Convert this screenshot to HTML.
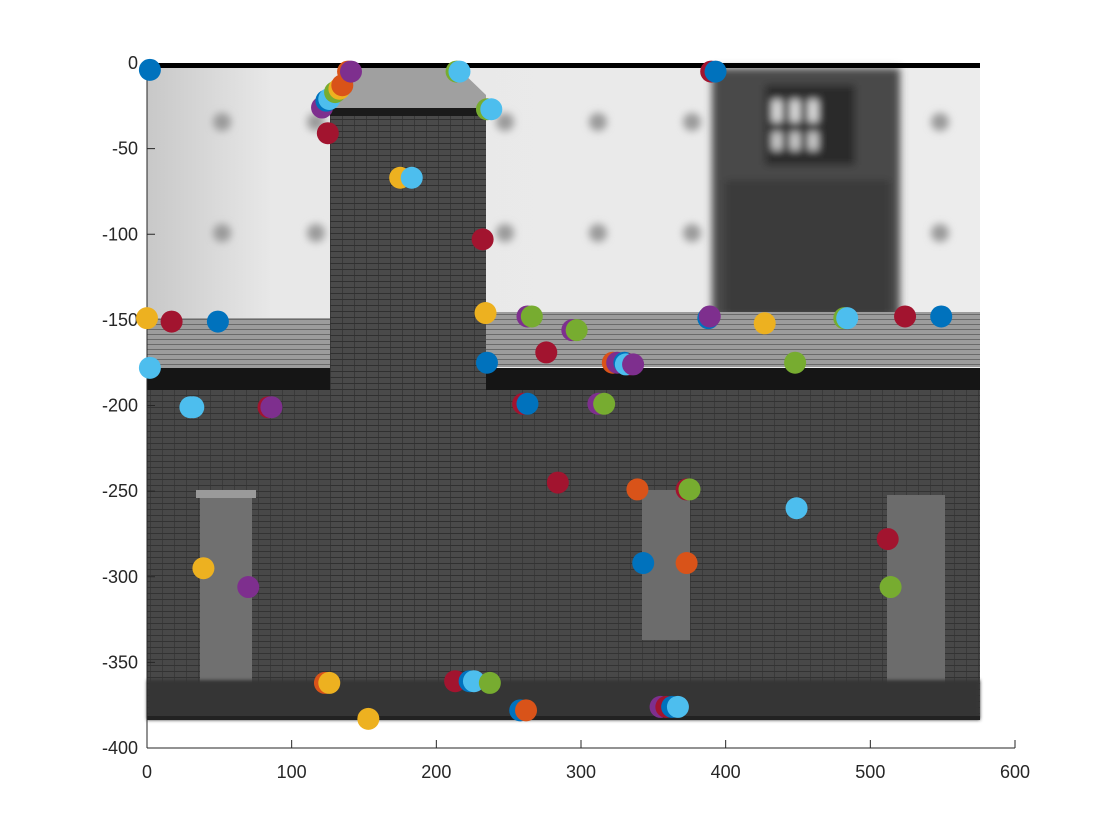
<!DOCTYPE html>
<html><head><meta charset="utf-8"><style>
html,body{margin:0;padding:0;background:#fff;}
svg{display:block;font-family:"Liberation Sans",sans-serif;}
</style></head><body>
<svg id="chart" width="1120" height="840">
<defs>
<filter id="blur4"><feGaussianBlur stdDeviation="4"/></filter>
<filter id="blur2"><feGaussianBlur stdDeviation="1.5"/></filter>
<linearGradient id="sky" x1="0" y1="0" x2="1" y2="0">
<stop offset="0" stop-color="#c8c8c8"/><stop offset="0.15" stop-color="#e8e8e8"/><stop offset="1" stop-color="#ececec"/></linearGradient>
<pattern id="brick" width="12" height="6" patternUnits="userSpaceOnUse">
<rect width="12" height="6" fill="#484848"/><rect y="5" width="12" height="1" fill="#333"/><rect x="6" width="1" height="5" fill="#3a3a3a"/></pattern>
<pattern id="brick2" width="12" height="6" patternUnits="userSpaceOnUse">
<rect width="12" height="6" fill="#4a4a4a"/><rect y="5" width="12" height="1" fill="#303030"/><rect x="6" width="1" height="5" fill="#383838"/></pattern>
<pattern id="roof" width="10" height="5" patternUnits="userSpaceOnUse">
<rect width="10" height="5" fill="#9c9c9c"/><rect y="4" width="10" height="1" fill="#6a6a6a"/></pattern>
</defs>
<g id="bg-image">
<rect x="147" y="63" width="833" height="657" fill="url(#sky)"/>
<g fill="#9a9a9a" filter="url(#blur4)">
<circle cx="222" cy="122" r="9"/><circle cx="410" cy="122" r="9"/><circle cx="598" cy="122" r="9"/>
<circle cx="222" cy="233" r="9"/><circle cx="410" cy="233" r="9"/><circle cx="598" cy="233" r="9"/><circle cx="505" cy="122" r="9"/><circle cx="505" cy="233" r="9"/>
<circle cx="316" cy="122" r="9"/><circle cx="316" cy="233" r="9"/><circle cx="692" cy="233" r="9"/><circle cx="692" cy="122" r="9"/><circle cx="940" cy="122" r="9"/><circle cx="940" cy="233" r="9"/>
</g>
<g filter="url(#blur4)">
<rect x="712" y="68" width="188" height="250" fill="#4a4a4a"/>
<rect x="725" y="180" width="165" height="138" fill="#3a3a3a"/>
<rect x="765" y="85" width="90" height="80" fill="#2a2a2a"/>
<rect x="772" y="100" width="10" height="22" fill="#ddd"/><rect x="790" y="100" width="10" height="22" fill="#ddd"/><rect x="808" y="100" width="10" height="22" fill="#ddd"/><rect x="772" y="132" width="10" height="18" fill="#ccc"/><rect x="790" y="132" width="10" height="18" fill="#ccc"/><rect x="808" y="132" width="10" height="18" fill="#ccc"/>
</g>
<rect x="147" y="63" width="833" height="5" fill="#000"/>
<polygon points="350,68 458,68 486,95 486,112 330,112 330,90" fill="#a0a0a0"/>
<rect x="330" y="108" width="156" height="8" fill="#1a1a1a"/>
<rect x="147" y="318" width="183" height="52" fill="url(#roof)"/>
<rect x="486" y="312" width="494" height="55" fill="url(#roof)"/>
<rect x="147" y="368" width="833" height="24" fill="#151515"/>
<rect x="147" y="390" width="833" height="330" fill="url(#brick)"/>
<rect x="330" y="116" width="156" height="566" fill="url(#brick2)"/>
<rect x="200" y="495" width="52" height="195" fill="#707070"/><rect x="196" y="490" width="60" height="8" fill="#9a9a9a"/>
<rect x="642" y="490" width="48" height="150" fill="#6c6c6c"/>
<rect x="887" y="495" width="58" height="195" fill="#6c6c6c"/>
<rect x="147" y="680" width="833" height="40" fill="#363636" filter="url(#blur2)"/>
<rect x="147" y="716" width="833" height="4" fill="#222"/>
</g>
<g id="axes"></g>
<g id="points"></g>
</svg>
<script>
const xTicks=[0,100,200,300,400,500,600];
const yTicks=[0,-50,-100,-150,-200,-250,-300,-350,-400];
const palette=["#0072BD","#D95319","#EDB120","#7E2F8E","#77AC30","#4DBEEE","#A2142F"];
const xs=[2,0,17,49,2,30,32,84,86,39,70,125,121,124,126,130,133,135,139,141,175,183,214,216,235,238,232,234,263,266,294,297,276,235,322,325,330,333,331,336,260,263,312,316,284,339,373,375,343,373,390,393,388,389,427,448,449,482,484,524,549,512,514,123,126,153,213,223,226,237,258,262,355,359,363,367];
const ys=[-4,-149,-151,-151,-178,-201,-201,-201,-201,-295,-306,-41,-26,-22,-21,-17,-15,-13,-5,-5,-67,-67,-5,-5,-27,-27,-103,-146,-148,-148,-156,-156,-169,-175,-175,-175,-175,-176,-176,-176,-199,-199,-199,-199,-245,-249,-249,-249,-292,-292,-5,-5,-149,-148,-152,-175,-260,-149,-149,-148,-148,-278,-306,-362,-362,-383,-361,-361,-361,-362,-378,-378,-376,-376,-376,-376];
const cols=[0,2,6,0,5,5,5,6,3,2,3,6,3,0,5,4,2,1,1,3,2,5,4,5,4,5,6,2,3,4,3,4,6,0,1,3,0,6,5,3,6,0,3,4,6,1,6,4,0,1,6,0,0,3,2,4,5,4,5,6,0,6,4,1,2,2,6,0,5,4,0,1,3,6,0,5];
const X=v=>147+(v-0)*(1015-147)/600;
const Y=v=>63+(0-v)*(748-63)/400;
const NS="http://www.w3.org/2000/svg";
const ax=document.getElementById('axes');
function mk(t,a,p){const e=document.createElementNS(NS,t);for(const k in a)e.setAttribute(k,a[k]);p.appendChild(e);return e;}
const yl=mk('line',{x1:147,y1:63,x2:147,y2:748,stroke:'#262626','stroke-width':1},ax);


const xl=mk('line',{x1:147,y1:748,x2:1015,y2:748,stroke:'#262626','stroke-width':1},ax);


xTicks.forEach(t=>{
 const tk=mk('line',{x1:X(t),y1:748,x2:X(t),y2:740,stroke:'#262626'},ax);
 
 
 const tx=mk('text',{x:X(t),y:778,'text-anchor':'middle','font-size':18,fill:'#262626'},ax);
 tx.textContent=t;
 
 
});
yTicks.forEach(t=>{
 const tk=mk('line',{x1:147,y1:Y(t),x2:155,y2:Y(t),stroke:'#262626'},ax);
 
 
 const tx=mk('text',{x:138,y:Y(t)+6,'text-anchor':'end','font-size':18,fill:'#262626'},ax);
 tx.textContent=t;
 
 
});
const pg=document.getElementById('points');
xs.forEach((v,i)=>{
 const c=mk('circle',{cx:X(v),cy:Y(ys[i]),r:11,fill:palette[cols[i]]},pg);
 
 
});
</script>
</body></html>
